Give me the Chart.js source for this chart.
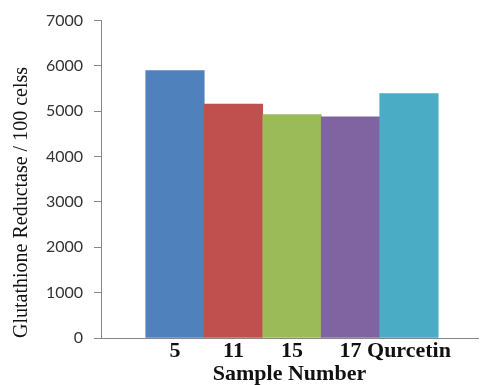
<!DOCTYPE html>
<html>
<head>
<meta charset="utf-8">
<script src="https://cdn.jsdelivr.net/npm/chart.js@4/dist/chart.umd.min.js"></script>
<style>
  html, body { margin: 0; padding: 0; background: #ffffff; }
  #wrap { width: 484px; height: 385px; position: relative; }
</style>
</head>
<body>
<div id="wrap"><canvas id="c" width="484" height="385"></canvas></div>
<script>
const categories = ['5', '11', '15', '17', 'Qurcetin'];
const values = [5900, 5160, 4930, 4880, 5390];
const barColors = ['#4F81BD', '#C0504D', '#9BBB59', '#8064A2', '#4BACC6'];
const yTicks = [0, 1000, 2000, 3000, 4000, 5000, 6000, 7000];
const yTitle = 'Glutathione Reductase / 100 celss';
const xTitle = 'Sample Number';

const points = categories.map((c, i) => ({ x: i, y: values[i] }));

new Chart(document.getElementById('c'), {
  type: 'bar',
  data: {
    datasets: [{
      data: points,
      backgroundColor: barColors,
      borderWidth: 0,
      barPercentage: 1,
      categoryPercentage: 1
    }]
  },
  options: {
    responsive: false,
    animation: false,
    devicePixelRatio: 1,
    layout: { padding: { left: 0, right: 6, top: 19, bottom: 0 } },
    plugins: { legend: { display: false }, tooltip: { enabled: false } },
    scales: {
      x: {
        type: 'linear',
        bounds: 'data',
        offset: false,
        min: -1.265,
        max: 5.18,
        grid: { display: false, drawTicks: false, offset: false },
        border: { display: true, color: '#868686', width: 1 },
        afterBuildTicks: (scale) => { scale.ticks = categories.map((_, i) => ({ value: i })); },
        afterFit: (scale) => { scale.height = 47; },
        ticks: {
          autoSkip: false,
          maxRotation: 0,
          padding: 2,
          color: '#111111',
          font: { family: 'Liberation Serif', size: 22, weight: 'bold', lineHeight: 1 },
          callback: (v) => categories[v] !== undefined ? categories[v] : ''
        },
        title: {
          display: true,
          text: xTitle,
          color: '#111111',
          padding: { top: 0, bottom: 0 },
          font: { family: 'Liberation Serif', size: 22, weight: 'bold', lineHeight: 1 }
        }
      },
      y: {
        min: 0,
        max: 7000,
        afterBuildTicks: (scale) => { scale.ticks = yTicks.map(v => ({ value: v })); },
        afterFit: (scale) => { scale.width = 101; },
        grid: { display: true, drawOnChartArea: false, drawTicks: true, tickLength: 7, color: '#868686', lineWidth: 1 },
        border: { display: true, color: '#868686', width: 1 },
        ticks: {
          padding: 11,
          color: '#333333',
          font: { family: 'Lato', size: 16 },
          callback: (v) => String(v)
        },
        title: {
          display: true,
          text: yTitle,
          align: 'start',
          color: '#111111',
          padding: { top: 10, bottom: 0 },
          font: { family: 'Liberation Serif', size: 20 }
        }
      }
    }
  }
});
</script>
</body>
</html>
